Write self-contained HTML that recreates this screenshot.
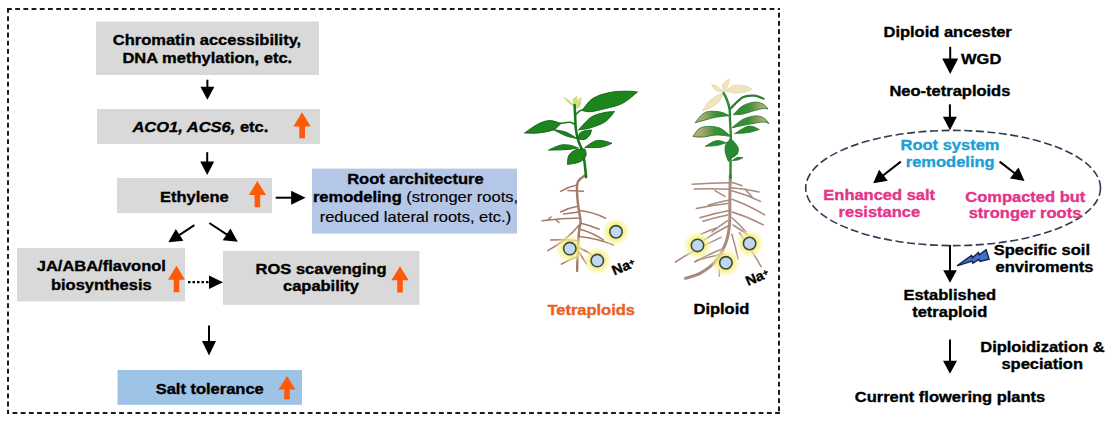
<!DOCTYPE html>
<html>
<head>
<meta charset="utf-8">
<style>
html,body{margin:0;padding:0;background:#fff;}
body{width:1118px;height:421px;overflow:hidden;position:relative;}
svg{position:absolute;left:0;top:0;}
text{font-family:"Liberation Sans",sans-serif;font-weight:bold;fill:#000;stroke:#000;stroke-width:0.35;}
.n{font-weight:normal;stroke-width:0.15;}
.pk{fill:#E5338A;stroke:#E5338A;}
.cy{fill:#1C9FD6;stroke:#1C9FD6;}
.or{fill:#E9621F;stroke:#E9621F;}
</style>
</head>
<body>
<svg width="1118" height="421" viewBox="0 0 1118 421">
<!-- dashed frame -->
<g fill="none" stroke="#1a1a1a" stroke-width="2" stroke-dasharray="4.8 3.4">
<path d="M7,9 H780"/>
<path d="M8,8 V414"/>
<path d="M779,9 V414" stroke-dashoffset="4.4"/>
<path d="M8,413 H780" stroke-dashoffset="3.7"/>
</g>

<!-- boxes -->
<rect x="96" y="21.5" width="223" height="53.5" fill="#D9D9D9"/>
<rect x="97" y="109" width="223" height="35" fill="#D9D9D9"/>
<rect x="117" y="178" width="155" height="35" fill="#D9D9D9"/>
<rect x="312" y="168.6" width="205" height="65" fill="#B4C7E7"/>
<rect x="17" y="248" width="168" height="53.4" fill="#D9D9D9"/>
<rect x="223" y="251" width="196.4" height="53.8" fill="#D9D9D9"/>
<rect x="117.5" y="370" width="184.5" height="34.8" fill="#9DC3E6"/>

<!-- black arrows left -->
<g fill="#000" stroke="#000">
<line x1="207.4" y1="79.7" x2="207.4" y2="87.7" stroke-width="2.0"/><polygon points="207.4,99.7 200.4,86.7 214.4,86.7" stroke="none"/>
<line x1="207.2" y1="152.2" x2="207.2" y2="162.5" stroke-width="2.0"/><polygon points="207.2,175.0 200.2,161.5 214.2,161.5" stroke="none"/>
<line x1="209.0" y1="325.5" x2="209.0" y2="341.9" stroke-width="2.0"/><polygon points="209.0,355.4 202.0,340.9 216.0,340.9" stroke="none"/>
<line x1="275.7" y1="197.7" x2="292.1" y2="197.7" stroke-width="2.0"/><polygon points="305.6,197.7 291.1,204.7 291.1,190.7" stroke="none"/>
<line x1="188.0" y1="282.2" x2="210.0" y2="282.2" stroke-width="2.2" stroke-dasharray="2.5 2"/><polygon points="223.0,282.2 209.0,289.0 209.0,275.4" stroke="none"/>
<line x1="194.4" y1="225.2" x2="178.8" y2="235.4" stroke-width="2.0"/><polygon points="168.3,242.3 175.8,229.0 183.4,240.8" stroke="none"/>
<line x1="209.3" y1="223.0" x2="227.4" y2="234.9" stroke-width="2.0"/><polygon points="237.8,241.8 222.7,240.2 230.4,228.5" stroke="none"/>
</g>

<!-- orange arrows -->
<g fill="#FF5A0A">
  <polygon points="302,112.2 310.7,126.4 305,126.4 305,138.3 299.3,138.3 299.3,126.4 293.5,126.4"/>
  <polygon points="257.4,180.9 266,195 260.2,195 260.2,207.3 254.6,207.3 254.6,195 248.8,195"/>
  <polygon points="176.5,265.8 185,279.8 179.3,279.8 179.3,292.2 173.7,292.2 173.7,279.8 168,279.8"/>
  <polygon points="400,266.3 408.6,280.3 402.8,280.3 402.8,292.6 397.2,292.6 397.2,280.3 391.4,280.3"/>
  <polygon points="287,376 295.5,389.5 289.8,389.5 289.8,399.3 284.2,399.3 284.2,389.5 278.5,389.5"/>
</g>

<g id="plants">
<defs><radialGradient id="glow"><stop offset="0" stop-color="#F6EC60" stop-opacity="1"/><stop offset="0.5" stop-color="#F8EE78" stop-opacity="0.85"/><stop offset="0.78" stop-color="#FBF4A8" stop-opacity="0.5"/><stop offset="1" stop-color="#FFFCE0" stop-opacity="0"/></radialGradient><filter id="blur1" x="-20%" y="-20%" width="140%" height="140%"><feGaussianBlur stdDeviation="0.5"/></filter></defs>
<g fill="none" stroke-linecap="round" filter="url(#blur1)">
<path d="M577.8,184.8 Q568.7,186.7 560.7,191.3" stroke="#FFFFFF" stroke-width="2.9"/>
<path d="M567.8,190.5 Q575.6,190.9 583.5,191.3" stroke="#FFFFFF" stroke-width="2.9"/>
<path d="M577.8,206.2 Q568.8,207.7 560.7,212.0" stroke="#FFFFFF" stroke-width="2.9"/>
<path d="M579.2,212.0 Q571.4,213.0 563.5,214.0" stroke="#FFFFFF" stroke-width="2.9"/>
<path d="M579.2,210.5 Q593.2,211.8 605.6,218.3" stroke="#FFFFFF" stroke-width="2.9"/>
<path d="M580.6,217.9 Q561.3,218.1 542.1,220.7" stroke="#FFFFFF" stroke-width="2.9"/>
<path d="M579.2,225.0 Q566.1,240.9 547.8,250.6" stroke="#FFFFFF" stroke-width="2.9"/>
<path d="M580.0,223.0 Q589.9,225.2 599.2,229.3" stroke="#FFFFFF" stroke-width="2.9"/>
<path d="M579.5,229.0 Q592.4,232.6 603.5,240.0" stroke="#FFFFFF" stroke-width="2.9"/>
<path d="M579.2,236.4 Q597.0,238.0 613.4,245.0" stroke="#FFFFFF" stroke-width="2.9"/>
<path d="M577.8,240.7 Q564.3,239.0 550.7,240.0" stroke="#FFFFFF" stroke-width="2.9"/>
<path d="M579.2,247.8 Q588.2,251.9 596.3,257.8" stroke="#FFFFFF" stroke-width="2.9"/>
<path d="M577.8,256.4 Q569.2,259.5 561.4,264.2" stroke="#FFFFFF" stroke-width="2.9"/>
<path d="M579.0,252.0 Q582.6,257.8 586.3,263.5" stroke="#FFFFFF" stroke-width="2.9"/>
<path d="M548.0,219.8 Q549.5,218.4 551.0,217.0" stroke="#FFFFFF" stroke-width="2.9"/>
<path d="M556.0,220.0 Q557.5,221.2 559.0,222.5" stroke="#FFFFFF" stroke-width="2.9"/>
<path d="M585.6,175.0 C584.3,176.2 579.2,178.9 577.8,182.0 C576.4,185.1 577.0,189.1 577.1,193.4 C577.2,197.7 577.9,202.9 578.5,207.7 C579.1,212.4 580.5,218.3 580.6,221.9 C580.7,225.5 579.7,224.5 579.2,229.3 C578.7,234.1 578.1,243.7 577.8,250.6 C577.4,257.6 577.2,267.6 577.1,271.0" stroke="#FFFFFF" stroke-width="4.0"/>
<path d="M577.8,184.8 Q568.7,186.7 560.7,191.3" stroke="#A37A66" stroke-width="1.5"/>
<path d="M567.8,190.5 Q575.6,190.9 583.5,191.3" stroke="#A37A66" stroke-width="1.5"/>
<path d="M577.8,206.2 Q568.8,207.7 560.7,212.0" stroke="#A37A66" stroke-width="1.5"/>
<path d="M579.2,212.0 Q571.4,213.0 563.5,214.0" stroke="#A37A66" stroke-width="1.5"/>
<path d="M579.2,210.5 Q593.2,211.8 605.6,218.3" stroke="#A37A66" stroke-width="1.5"/>
<path d="M580.6,217.9 Q561.3,218.1 542.1,220.7" stroke="#A37A66" stroke-width="1.5"/>
<path d="M579.2,225.0 Q566.1,240.9 547.8,250.6" stroke="#A37A66" stroke-width="1.5"/>
<path d="M580.0,223.0 Q589.9,225.2 599.2,229.3" stroke="#A37A66" stroke-width="1.5"/>
<path d="M579.5,229.0 Q592.4,232.6 603.5,240.0" stroke="#A37A66" stroke-width="1.5"/>
<path d="M579.2,236.4 Q597.0,238.0 613.4,245.0" stroke="#A37A66" stroke-width="1.5"/>
<path d="M577.8,240.7 Q564.3,239.0 550.7,240.0" stroke="#A37A66" stroke-width="1.5"/>
<path d="M579.2,247.8 Q588.2,251.9 596.3,257.8" stroke="#A37A66" stroke-width="1.5"/>
<path d="M577.8,256.4 Q569.2,259.5 561.4,264.2" stroke="#A37A66" stroke-width="1.5"/>
<path d="M579.0,252.0 Q582.6,257.8 586.3,263.5" stroke="#A37A66" stroke-width="1.5"/>
<path d="M548.0,219.8 Q549.5,218.4 551.0,217.0" stroke="#A37A66" stroke-width="1.5"/>
<path d="M556.0,220.0 Q557.5,221.2 559.0,222.5" stroke="#A37A66" stroke-width="1.5"/>
<path d="M585.6,175.0 C584.3,176.2 579.2,178.9 577.8,182.0 C576.4,185.1 577.0,189.1 577.1,193.4 C577.2,197.7 577.9,202.9 578.5,207.7 C579.1,212.4 580.5,218.3 580.6,221.9 C580.7,225.5 579.7,224.5 579.2,229.3 C578.7,234.1 578.1,243.7 577.8,250.6 C577.4,257.6 577.2,267.6 577.1,271.0" stroke="#A37A66" stroke-width="2.4"/>
</g>
<circle cx="616" cy="231.8" r="15" fill="url(#glow)"/>
<circle cx="569.8" cy="248.6" r="15" fill="url(#glow)"/>
<circle cx="597.3" cy="260.6" r="15" fill="url(#glow)"/>
<circle cx="616" cy="231.8" r="6.2" fill="#C2D8F0" stroke="#3A4A40" stroke-width="1.6"/>
<circle cx="569.8" cy="248.6" r="6.2" fill="#C2D8F0" stroke="#3A4A40" stroke-width="1.6"/>
<circle cx="597.3" cy="260.6" r="6.2" fill="#C2D8F0" stroke="#3A4A40" stroke-width="1.6"/>
<text transform="translate(614.3,275.5) rotate(-23) scale(1.05,1)" font-size="13.8" style="font-weight:bold">Na<tspan font-size="9" dy="-2.5">+</tspan></text>
<g filter="url(#blur1)">
<path d="M574.6,106.0 C573.7,105.1 570.9,102.0 569.0,100.5 C567.1,99.0 564.4,97.6 563.5,97.0 C564.6,98.2 568.1,102.5 570.0,104.0 C571.9,105.5 573.8,105.7 574.6,106.0Z" fill="#D2E27E" stroke="#C0D468" stroke-width="0.6" stroke-linejoin="round" />
<path d="M574.6,106.0 C574.3,104.9 572.6,101.1 573.0,99.5 C573.4,97.9 576.3,97.0 577.0,96.5 C576.9,97.2 576.9,99.4 576.5,101.0 C576.1,102.6 574.9,105.2 574.6,106.0Z" fill="#D2E27E" stroke="#C0D468" stroke-width="0.6" stroke-linejoin="round" />
<path d="M575.0,106.0 C575.4,105.0 576.4,101.3 577.5,100.0 C578.6,98.7 580.8,98.3 581.5,98.0 C581.2,99.0 580.6,102.7 579.5,104.0 C578.4,105.3 575.8,105.7 575.0,106.0Z" fill="#D8E690" stroke="#C0D468" stroke-width="0.6" stroke-linejoin="round" />
<path d="M576.0,108.0 C576.3,107.3 577.2,104.8 578.0,104.0 C578.8,103.2 580.5,103.2 581.0,103.0 C580.7,103.7 579.8,106.2 579.0,107.0 C578.2,107.8 576.5,107.8 576.0,108.0Z" fill="#C9DC7A" stroke="#B5CC60" stroke-width="0.5" stroke-linejoin="round" />
<path d="M574.6,105.0 C574.7,107.0 575.0,113.0 575.2,116.9 C575.4,120.9 575.3,124.7 575.8,128.7 C576.3,132.7 577.3,137.4 578.3,140.7 C579.2,144.0 580.5,145.2 581.5,148.5 C582.5,151.8 583.4,155.6 584.2,160.3 C585.0,165.1 585.8,174.2 586.1,177.0" fill="none" stroke="#187A1A" stroke-width="2.6" stroke-linecap="round" stroke-linejoin="round" />
<path d="M575.3,115.0 C575.9,114.4 577.7,112.4 579.0,111.5 C580.3,110.6 582.3,109.8 583.0,109.5" fill="none" stroke="#1E7A20" stroke-width="1.6" stroke-linecap="round" stroke-linejoin="round" />
<path d="M575.2,124.6 C574.3,124.2 572.3,122.4 569.9,122.2 C567.5,122.0 562.5,123.2 561.0,123.4" fill="none" stroke="#1E7A20" stroke-width="1.6" stroke-linecap="round" stroke-linejoin="round" />
<path d="M582.0,110.5 C583.8,108.5 588.1,101.5 592.7,98.5 C597.3,95.5 604.1,93.7 609.8,92.5 C615.5,91.3 622.4,91.3 627.0,91.2 C631.6,91.1 635.8,91.9 637.5,92.0 C635.0,93.9 628.0,100.5 622.7,103.2 C617.4,106.0 611.0,107.1 605.6,108.5 C600.2,109.9 594.5,111.4 590.6,111.7 C586.7,112.0 583.4,110.7 582.0,110.5Z" fill="#1F861F" stroke="#105C14" stroke-width="0.9" stroke-linejoin="round" />
<path d="M578.5,130.0 C580.5,127.9 586.5,120.4 590.6,117.5 C594.8,114.6 599.4,113.8 603.4,112.8 C607.4,111.8 612.6,111.7 614.5,111.5 C613.0,113.2 609.6,118.8 605.6,121.5 C601.6,124.2 595.1,126.4 590.6,127.8 C586.1,129.2 580.5,129.6 578.5,130.0Z" fill="#1F861F" stroke="#105C14" stroke-width="0.9" stroke-linejoin="round" />
<path d="M561.0,123.4 C559.1,122.9 553.6,120.5 549.7,120.6 C545.8,120.7 542.0,122.1 537.8,124.2 C533.6,126.3 526.7,131.5 524.5,133.0 C526.7,133.0 533.0,133.5 537.8,133.0 C542.6,132.5 549.3,131.5 553.2,129.9 C557.1,128.3 559.7,124.5 561.0,123.4Z" fill="#1F861F" stroke="#105C14" stroke-width="0.9" stroke-linejoin="round" />
<path d="M577.0,138.5 C575.2,137.4 570.0,133.7 566.0,132.2 C562.0,130.7 555.2,129.9 553.0,129.5 C555.2,130.6 562.0,134.3 566.0,135.8 C570.0,137.3 575.2,138.1 577.0,138.5Z" fill="#1F861F" stroke="#105C14" stroke-width="0.9" stroke-linejoin="round" />
<path d="M578.3,139.0 C578.5,138.1 578.5,134.9 579.6,133.5 C580.7,132.1 583.0,131.4 585.0,130.8 C587.0,130.2 590.4,130.1 591.5,130.0 C591.2,130.9 590.7,133.9 589.5,135.5 C588.3,137.1 586.4,138.9 584.5,139.5 C582.6,140.1 579.3,139.1 578.3,139.0Z" fill="#1F861F" stroke="#105C14" stroke-width="0.9" stroke-linejoin="round" />
<path d="M578.2,148.0 C576.8,147.5 572.9,145.7 569.9,145.2 C566.9,144.7 564.0,144.4 560.4,145.2 C556.8,146.0 550.5,149.3 548.5,150.1 C550.7,150.1 557.9,150.0 561.5,149.8 C565.1,149.7 567.2,149.5 570.0,149.2 C572.8,148.9 576.8,148.2 578.2,148.0Z" fill="#1F861F" stroke="#105C14" stroke-width="0.9" stroke-linejoin="round" />
<path d="M584.8,147.5 C586.5,146.4 592.1,142.0 595.3,140.9 C598.5,139.8 601.2,140.6 604.0,141.0 C606.8,141.4 610.7,142.9 612.0,143.3 C611.0,143.7 608.1,145.1 606.0,145.8 C603.9,146.5 602.7,147.1 599.2,147.4 C595.7,147.7 587.2,147.5 584.8,147.5Z" fill="#1F861F" stroke="#105C14" stroke-width="0.9" stroke-linejoin="round" />
<path d="M585.0,149.0 C585.2,150.1 586.8,153.4 586.0,155.5 C585.2,157.6 583.1,160.3 580.0,161.8 C576.9,163.3 569.6,164.1 567.5,164.5 C567.7,163.0 567.4,157.9 568.8,155.5 C570.2,153.1 573.0,150.9 575.7,149.8 C578.4,148.7 583.5,149.1 585.0,149.0Z" fill="#1F861F" stroke="#105C14" stroke-width="0.9" stroke-linejoin="round" />
</g>
<g fill="none" stroke-linecap="round" filter="url(#blur1)">
<path d="M729.8,182.8 Q710.9,182.8 692.1,184.3" stroke="#FFFFFF" stroke-width="2.9"/>
<path d="M729.8,189.2 Q712.0,188.4 694.2,189.0" stroke="#FFFFFF" stroke-width="2.9"/>
<path d="M714.9,190.7 Q719.9,193.6 724.9,196.4" stroke="#FFFFFF" stroke-width="2.9"/>
<path d="M729.8,200.0 Q719.0,201.9 708.5,205.0" stroke="#FFFFFF" stroke-width="2.9"/>
<path d="M727.7,203.5 Q711.9,205.1 696.4,208.5" stroke="#FFFFFF" stroke-width="2.9"/>
<path d="M729.8,210.6 Q714.6,213.3 699.9,217.7" stroke="#FFFFFF" stroke-width="2.9"/>
<path d="M727.7,214.9 Q715.1,217.4 702.8,221.3" stroke="#FFFFFF" stroke-width="2.9"/>
<path d="M727.7,220.6 Q719.5,225.8 712.0,232.0" stroke="#FFFFFF" stroke-width="2.9"/>
<path d="M730.6,182.1 Q736.4,183.6 742.0,185.7" stroke="#FFFFFF" stroke-width="2.9"/>
<path d="M730.6,187.8 Q745.0,188.5 759.0,192.0" stroke="#FFFFFF" stroke-width="2.9"/>
<path d="M732.0,190.7 Q746.8,194.6 760.5,201.4" stroke="#FFFFFF" stroke-width="2.9"/>
<path d="M732.0,199.2 Q749.1,205.4 764.7,214.9" stroke="#FFFFFF" stroke-width="2.9"/>
<path d="M732.0,212.0 Q748.3,216.9 763.3,224.9" stroke="#FFFFFF" stroke-width="2.9"/>
<path d="M732.0,217.7 Q739.5,224.4 746.2,232.0" stroke="#FFFFFF" stroke-width="2.9"/>
<path d="M721.0,237.4 Q697.2,247.9 675.4,262.0" stroke="#FFFFFF" stroke-width="2.9"/>
<path d="M724.0,248.2 Q708.8,253.9 694.7,262.0" stroke="#FFFFFF" stroke-width="2.9"/>
<path d="M716.3,228.0 Q708.4,230.7 700.9,234.3" stroke="#FFFFFF" stroke-width="2.9"/>
<path d="M731.8,234.3 Q735.6,246.5 738.0,259.0" stroke="#FFFFFF" stroke-width="2.9"/>
<path d="M739.5,232.7 Q751.3,249.1 761.1,266.7" stroke="#FFFFFF" stroke-width="2.9"/>
<path d="M719.4,269.8 Q719.4,272.9 719.4,276.0" stroke="#FFFFFF" stroke-width="2.9"/>
<path d="M724.0,254.0 Q710.0,256.4 696.3,260.5" stroke="#FFFFFF" stroke-width="2.9"/>
<path d="M728.0,226.0 Q715.6,232.3 704.0,240.0" stroke="#FFFFFF" stroke-width="2.9"/>
<path d="M733.0,225.0 Q742.9,230.9 752.0,238.0" stroke="#FFFFFF" stroke-width="2.9"/>
<path d="M745.0,189.0 Q748.5,193.0 752.0,197.0" stroke="#FFFFFF" stroke-width="2.9"/>
<path d="M730.3,175.0 C730.2,179.2 729.9,191.7 729.8,200.0 C729.7,208.3 730.2,217.8 729.5,225.0 C728.8,232.2 727.8,237.6 725.6,243.5 C723.4,249.4 720.4,255.6 716.3,260.5 C712.2,265.4 706.0,269.9 700.9,272.9 C695.8,275.9 688.0,277.4 685.4,278.3" stroke="#FFFFFF" stroke-width="4.6"/>
<path d="M729.8,182.8 Q710.9,182.8 692.1,184.3" stroke="#A88A7E" stroke-width="1.5"/>
<path d="M729.8,189.2 Q712.0,188.4 694.2,189.0" stroke="#A88A7E" stroke-width="1.5"/>
<path d="M714.9,190.7 Q719.9,193.6 724.9,196.4" stroke="#A88A7E" stroke-width="1.5"/>
<path d="M729.8,200.0 Q719.0,201.9 708.5,205.0" stroke="#A88A7E" stroke-width="1.5"/>
<path d="M727.7,203.5 Q711.9,205.1 696.4,208.5" stroke="#A88A7E" stroke-width="1.5"/>
<path d="M729.8,210.6 Q714.6,213.3 699.9,217.7" stroke="#A88A7E" stroke-width="1.5"/>
<path d="M727.7,214.9 Q715.1,217.4 702.8,221.3" stroke="#A88A7E" stroke-width="1.5"/>
<path d="M727.7,220.6 Q719.5,225.8 712.0,232.0" stroke="#A88A7E" stroke-width="1.5"/>
<path d="M730.6,182.1 Q736.4,183.6 742.0,185.7" stroke="#A88A7E" stroke-width="1.5"/>
<path d="M730.6,187.8 Q745.0,188.5 759.0,192.0" stroke="#A88A7E" stroke-width="1.5"/>
<path d="M732.0,190.7 Q746.8,194.6 760.5,201.4" stroke="#A88A7E" stroke-width="1.5"/>
<path d="M732.0,199.2 Q749.1,205.4 764.7,214.9" stroke="#A88A7E" stroke-width="1.5"/>
<path d="M732.0,212.0 Q748.3,216.9 763.3,224.9" stroke="#A88A7E" stroke-width="1.5"/>
<path d="M732.0,217.7 Q739.5,224.4 746.2,232.0" stroke="#A88A7E" stroke-width="1.5"/>
<path d="M721.0,237.4 Q697.2,247.9 675.4,262.0" stroke="#A88A7E" stroke-width="1.5"/>
<path d="M724.0,248.2 Q708.8,253.9 694.7,262.0" stroke="#A88A7E" stroke-width="1.5"/>
<path d="M716.3,228.0 Q708.4,230.7 700.9,234.3" stroke="#A88A7E" stroke-width="1.5"/>
<path d="M731.8,234.3 Q735.6,246.5 738.0,259.0" stroke="#A88A7E" stroke-width="1.5"/>
<path d="M739.5,232.7 Q751.3,249.1 761.1,266.7" stroke="#A88A7E" stroke-width="1.5"/>
<path d="M719.4,269.8 Q719.4,272.9 719.4,276.0" stroke="#A88A7E" stroke-width="1.5"/>
<path d="M724.0,254.0 Q710.0,256.4 696.3,260.5" stroke="#A88A7E" stroke-width="1.5"/>
<path d="M728.0,226.0 Q715.6,232.3 704.0,240.0" stroke="#A88A7E" stroke-width="1.5"/>
<path d="M733.0,225.0 Q742.9,230.9 752.0,238.0" stroke="#A88A7E" stroke-width="1.5"/>
<path d="M745.0,189.0 Q748.5,193.0 752.0,197.0" stroke="#A88A7E" stroke-width="1.5"/>
<path d="M730.3,175.0 C730.2,179.2 729.9,191.7 729.8,200.0 C729.7,208.3 730.2,217.8 729.5,225.0 C728.8,232.2 727.8,237.6 725.6,243.5 C723.4,249.4 720.4,255.6 716.3,260.5 C712.2,265.4 706.0,269.9 700.9,272.9 C695.8,275.9 688.0,277.4 685.4,278.3" stroke="#A88A7E" stroke-width="3.0"/>
</g>
<circle cx="697.5" cy="245.4" r="15" fill="url(#glow)"/>
<circle cx="749.6" cy="243.5" r="15" fill="url(#glow)"/>
<circle cx="725.9" cy="262.8" r="15" fill="url(#glow)"/>
<circle cx="697.5" cy="245.4" r="6.2" fill="#C2D8F0" stroke="#3A4A40" stroke-width="1.6"/>
<circle cx="749.6" cy="243.5" r="6.2" fill="#C2D8F0" stroke="#3A4A40" stroke-width="1.6"/>
<circle cx="725.9" cy="262.8" r="6.2" fill="#C2D8F0" stroke="#3A4A40" stroke-width="1.6"/>
<text transform="translate(748,286) rotate(-23) scale(1.05,1)" font-size="13.8" style="font-weight:bold">Na<tspan font-size="9" dy="-2.5">+</tspan></text>
<g filter="url(#blur1)">
<defs><linearGradient id="gR" x1="0" y1="0" x2="1" y2="0"><stop offset="0" stop-color="#2A8A30"/><stop offset="0.45" stop-color="#3C9038"/><stop offset="0.8" stop-color="#A8A46C"/><stop offset="1" stop-color="#B8B07C"/></linearGradient><linearGradient id="gL" x1="1" y1="0" x2="0" y2="0"><stop offset="0" stop-color="#2A8A30"/><stop offset="0.4" stop-color="#3C9038"/><stop offset="0.75" stop-color="#A8A46C"/><stop offset="1" stop-color="#B8B07C"/></linearGradient></defs>
<path d="M724.0,93.0 C722.8,93.4 719.7,93.9 717.0,95.5 C714.3,97.1 710.4,99.9 708.0,102.5 C705.6,105.1 703.4,109.6 702.5,111.0 C703.9,110.4 708.2,109.1 711.0,107.5 C713.8,105.9 716.8,103.9 719.0,101.5 C721.2,99.1 723.2,94.4 724.0,93.0Z" fill="#EEE4C0" stroke="#E4D6A4" stroke-width="0.8" stroke-linejoin="round" />
<path d="M723.6,92.0 C722.5,91.0 719.0,87.2 717.0,86.0 C715.0,84.8 712.4,84.8 711.5,84.5 C712.2,85.4 713.5,88.8 715.5,90.0 C717.5,91.2 722.2,91.7 723.6,92.0Z" fill="#EEE4C0" stroke="#E4D6A4" stroke-width="0.8" stroke-linejoin="round" />
<path d="M723.6,92.0 C723.5,90.7 722.0,86.2 723.0,84.0 C724.0,81.8 728.4,79.8 729.5,79.0 C729.2,80.2 728.5,84.3 727.5,86.5 C726.5,88.7 724.2,91.1 723.6,92.0Z" fill="#EEE4C0" stroke="#E4D6A4" stroke-width="0.8" stroke-linejoin="round" />
<path d="M725.0,91.0 C726.5,90.1 730.7,86.3 734.0,85.5 C737.3,84.7 742.0,85.4 745.0,86.0 C748.0,86.6 750.8,88.5 752.0,89.0 C750.8,89.5 747.8,91.3 745.0,92.0 C742.2,92.7 738.3,93.2 735.0,93.0 C731.7,92.8 726.7,91.3 725.0,91.0Z" fill="#EEE4C0" stroke="#E4D6A4" stroke-width="0.8" stroke-linejoin="round" />
<path d="M723.6,93.0 C724.2,94.2 726.0,97.3 727.0,100.0 C728.0,102.7 729.1,105.9 729.6,109.2 C730.1,112.5 729.8,115.7 730.0,120.0 C730.2,124.3 730.7,130.0 730.8,135.0 C730.9,140.0 730.5,142.8 730.5,150.0 C730.5,157.2 730.5,173.3 730.5,178.0" fill="none" stroke="#2A8A30" stroke-width="2.4" stroke-linecap="round" stroke-linejoin="round" />
<path d="M730.3,108.8 C732.4,106.9 738.7,99.4 742.8,97.2 C746.9,95.0 751.2,95.5 754.7,95.7 C758.2,96.0 762.1,98.2 763.6,98.7" fill="none" stroke="#2E7E30" stroke-width="2.2" stroke-linecap="round" stroke-linejoin="round" />
<path d="M733.3,114.7 C734.9,113.2 739.2,107.9 742.8,105.8 C746.4,103.7 751.3,102.5 754.7,102.2 C758.1,101.9 760.8,102.9 763.0,104.0 C765.2,105.1 767.2,108.2 768.0,109.0 C767.2,108.9 765.2,108.2 763.0,108.5 C760.8,108.8 758.1,109.6 754.7,110.5 C751.3,111.4 746.4,113.4 742.8,114.1 C739.2,114.8 734.9,114.6 733.3,114.7Z" fill="url(#gR)" stroke="#2A7A2E" stroke-width="0.9" stroke-linejoin="round" />
<path d="M732.1,127.8 C733.9,126.4 738.8,121.4 742.8,119.4 C746.8,117.4 752.3,116.1 755.9,115.9 C759.5,115.7 762.0,117.0 764.2,118.3 C766.4,119.6 768.2,122.7 769.0,123.6 C768.2,123.3 766.4,122.1 764.2,122.0 C762.0,121.9 759.5,122.4 755.9,123.0 C752.3,123.6 746.8,124.6 742.8,125.4 C738.8,126.2 733.9,127.4 732.1,127.8Z" fill="url(#gR)" stroke="#2A7A2E" stroke-width="0.9" stroke-linejoin="round" />
<path d="M734.5,133.7 C736.9,132.4 744.6,126.7 748.8,126.0 C752.9,125.3 757.6,128.9 759.4,129.5 C757.6,130.0 752.9,131.8 748.8,132.5 C744.6,133.2 736.9,133.5 734.5,133.7Z" fill="#2A8A30" stroke="#1E6E24" stroke-width="0.7" stroke-linejoin="round" />
<path d="M729.3,115.7 C727.9,115.1 724.1,112.8 720.8,112.1 C717.5,111.4 712.5,111.0 709.4,111.4 C706.3,111.8 704.7,112.4 702.3,114.3 C699.9,116.2 696.3,121.4 695.1,122.8 C696.8,122.3 701.5,121.0 705.1,120.0 C708.7,119.0 712.5,117.8 716.5,117.1 C720.5,116.4 727.2,115.9 729.3,115.7Z" fill="url(#gL)" stroke="#2A7A2E" stroke-width="0.9" stroke-linejoin="round" />
<path d="M730.8,136.4 C729.1,135.1 724.4,130.2 720.8,128.5 C717.2,126.8 713.0,126.4 709.4,126.4 C705.8,126.4 702.1,126.8 699.4,128.5 C696.7,130.2 694.1,135.1 693.0,136.4 C694.5,136.5 698.4,137.3 702.3,137.1 C706.2,136.9 711.8,135.1 716.5,135.0 C721.2,134.9 728.4,136.2 730.8,136.4Z" fill="url(#gL)" stroke="#2A7A2E" stroke-width="0.9" stroke-linejoin="round" />
<path d="M726.5,142.8 C724.8,142.4 720.1,140.0 716.5,140.6 C712.9,141.2 707.0,145.4 705.1,146.3 C707.0,146.2 712.9,146.2 716.5,145.6 C720.1,145.0 724.8,143.3 726.5,142.8Z" fill="#2A8A30" stroke="#1E6E24" stroke-width="0.7" stroke-linejoin="round" />
<path d="M730.8,138.5 C732.0,139.9 736.8,144.4 737.9,147.0 C739.0,149.6 738.4,152.3 737.2,154.2 C736.0,156.1 732.2,157.3 730.8,158.5 C729.4,159.7 729.0,161.0 728.6,161.5 C728.3,160.9 727.6,159.7 727.0,158.0 C726.4,156.3 725.3,153.6 725.1,151.3 C724.9,149.0 724.8,146.3 725.8,144.2 C726.8,142.1 730.0,139.4 730.8,138.5Z" fill="#2A8A30" stroke="#1E6E24" stroke-width="0.7" stroke-linejoin="round" />
<path d="M732.2,160.6 C733.0,160.1 735.2,158.0 737.0,157.5 C738.8,157.0 741.9,157.7 742.9,157.7 C742.1,158.1 739.8,159.5 738.0,160.0 C736.2,160.5 733.2,160.5 732.2,160.6Z" fill="#2A8A30" stroke="#1E6E24" stroke-width="0.7" stroke-linejoin="round" />
</g>
</g>

<!-- right panel arrows -->
<g fill="#000" stroke="#000">
<line x1="950.2" y1="46.8" x2="950.2" y2="59.6" stroke-width="2.0"/><polygon points="950.2,74.1 942.2,58.6 958.2,58.6" stroke="none"/>
<line x1="949.9" y1="104.3" x2="949.9" y2="117.7" stroke-width="2.0"/><polygon points="949.9,130.2 942.9,116.7 956.9,116.7" stroke="none"/>
<line x1="950.0" y1="245.0" x2="950.0" y2="271.3" stroke-width="2.0"/><polygon points="950.0,282.8 943.2,270.3 956.8,270.3" stroke="none"/>
<line x1="950.0" y1="339.4" x2="950.0" y2="361.8" stroke-width="2.0"/><polygon points="950.0,373.8 943.0,360.8 957.0,360.8" stroke="none"/>
<line x1="900.8" y1="161.6" x2="882.7" y2="175.8" stroke-width="2.0"/><polygon points="873.2,183.2 879.1,169.7 887.8,180.7" stroke="none"/>
<line x1="999.6" y1="161.6" x2="1015.0" y2="173.5" stroke-width="2.0"/><polygon points="1024.5,180.9 1009.9,178.5 1018.5,167.4" stroke="none"/>
</g>
<ellipse cx="953.1" cy="188" rx="147.4" ry="57.6" fill="none" stroke="#2F3B52" stroke-width="1.6" stroke-dasharray="8 3.5"/>
<polygon points="957,265.8 971.6,255.4 972.5,257.8 978.4,252.4 979.3,254.8 986.1,249.7 989.1,259.2 980,261.5 979,259.3 972.8,263.3 972,261" fill="#4272C8" stroke="#14244E" stroke-width="1.4" stroke-linejoin="miter"/>

<text transform="translate(207,45) scale(1.1,1)" text-anchor="middle" font-size="15.0">Chromatin accessibility,</text>
<text transform="translate(207.3,62.6) scale(1.1,1)" text-anchor="middle" font-size="15.0">DNA methylation, etc.</text>
<text transform="translate(200.4,131.7) scale(1.1,1)" text-anchor="middle" font-size="15.0"><tspan font-style="italic">ACO1, ACS6,</tspan> etc.</text>
<text transform="translate(194.3,201.6) scale(1.1,1)" text-anchor="middle" font-size="15.0">Ethylene</text>
<text transform="translate(415.4,183.6) scale(1.1,1)" text-anchor="middle" font-size="15.0">Root architecture</text>
<text transform="translate(415.5,202) scale(1.1,1)" text-anchor="middle" font-size="15.0">remodeling<tspan class="n"> (stronger roots,</tspan></text>
<text transform="translate(415.4,221.6) scale(1.1,1)" text-anchor="middle" font-size="15.0" class="n">reduced lateral roots, etc.)</text>
<text transform="translate(101.3,271.4) scale(1.1,1)" text-anchor="middle" font-size="15.0">JA/ABA/flavonol</text>
<text transform="translate(101.3,289.5) scale(1.1,1)" text-anchor="middle" font-size="15.0">biosynthesis</text>
<text transform="translate(321.1,274.4) scale(1.1,1)" text-anchor="middle" font-size="15.0">ROS scavenging</text>
<text transform="translate(321,291.3) scale(1.1,1)" text-anchor="middle" font-size="15.0">capability</text>
<text transform="translate(209.7,393.5) scale(1.1,1)" text-anchor="middle" font-size="15.0">Salt tolerance</text>
<text transform="translate(591.2,314.6) scale(1.1,1)" text-anchor="middle" font-size="15.0" class="or">Tetraploids</text>
<text transform="translate(721.4,314) scale(1.1,1)" text-anchor="middle" font-size="15.0">Diploid</text>
<text transform="translate(947.6,36.6) scale(1.1,1)" text-anchor="middle" font-size="15.0">Diploid ancester</text>
<text transform="translate(949.9,96) scale(1.1,1)" text-anchor="middle" font-size="15.0">Neo-tetraploids</text>
<text transform="translate(950,149.7) scale(1.1,1)" text-anchor="middle" font-size="15.0" class="cy">Root system</text>
<text transform="translate(950.2,167.2) scale(1.1,1)" text-anchor="middle" font-size="15.0" class="cy">remodeling</text>
<text transform="translate(879.2,199.5) scale(1.1,1)" text-anchor="middle" font-size="15.0" class="pk">Enhanced salt</text>
<text transform="translate(879.4,216.5) scale(1.1,1)" text-anchor="middle" font-size="15.0" class="pk">resistance</text>
<text transform="translate(1025.3,201.5) scale(1.1,1)" text-anchor="middle" font-size="15.0" class="pk">Compacted but</text>
<text transform="translate(1025,218) scale(1.1,1)" text-anchor="middle" font-size="15.0" class="pk">stronger roots</text>
<text transform="translate(1041.9,255.3) scale(1.1,1)" text-anchor="middle" font-size="15.0">Specific soil</text>
<text transform="translate(1044.5,272.2) scale(1.1,1)" text-anchor="middle" font-size="15.0">enviroments</text>
<text transform="translate(949.7,300.4) scale(1.1,1)" text-anchor="middle" font-size="15.0">Established</text>
<text transform="translate(949.7,317.4) scale(1.1,1)" text-anchor="middle" font-size="15.0">tetraploid</text>
<text transform="translate(1042.5,352.4) scale(1.1,1)" text-anchor="middle" font-size="15.0">Diploidization &amp;</text>
<text transform="translate(1042.2,369.2) scale(1.1,1)" text-anchor="middle" font-size="15.0">speciation</text>
<text transform="translate(950,402.2) scale(1.1,1)" text-anchor="middle" font-size="15.0">Current flowering plants</text>
<text transform="translate(961,64.1) scale(1.1,1)" text-anchor="start" font-size="15.0">WGD</text>
</svg>
</body>
</html>
